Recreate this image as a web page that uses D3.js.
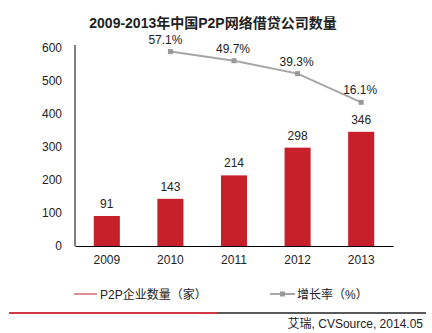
<!DOCTYPE html>
<html lang="zh">
<head>
<meta charset="UTF-8">
<title>P2P</title>
<script src="https://d3js.org/d3.v7.min.js"></script>
<style>
  body { margin: 0; background: #fff; }
  svg text { font-family: "Liberation Sans", Arial, "Noto Sans CJK SC", sans-serif; fill: #222; }
</style>
</head>
<body>
<svg id="chart" width="432" height="333"></svg>
<script>
const years = ["2009", "2010", "2011", "2012", "2013"];
const companies = [91, 143, 214, 298, 346];
const growthYears = ["2010", "2011", "2012", "2013"];
const growth = [57.1, 49.7, 39.3, 16.1];
const yTicks = [0, 100, 200, 300, 400, 500, 600];

const svg = d3.select("#chart");
const plotLeft = 75, plotRight = 393, plotTop = 48, plotBottom = 246;

const x = d3.scaleBand().domain(years).range([plotLeft, plotRight]).paddingInner(0.59).paddingOuter(0.295);
const y = d3.scaleLinear().domain([0, 600]).range([plotBottom, plotTop]);
const y2 = d3.scaleLinear().domain([-100, 60]).range([plotBottom, plotTop]);

// title
svg.append("text")
  .attr("x", 213).attr("y", 28)
  .attr("text-anchor", "middle")
  .attr("font-size", 14).attr("font-weight", "bold")
  .style("font-family", "'Liberation Sans', 'Noto Sans CJK SC', sans-serif")
  .text("2009-2013年中国P2P网络借贷公司数量");

// y axis
const yAxis = svg.append("g")
  .attr("transform", `translate(${plotLeft},0)`)
  .call(d3.axisLeft(y).tickValues(yTicks).tickSize(0).tickPadding(13));
yAxis.select(".domain").attr("stroke", "#000").attr("d", `M0,${plotTop - 3}V${plotBottom}`);
yAxis.selectAll("text").attr("font-size", 12).style("fill", "#222");

// x axis
const xAxis = svg.append("g")
  .attr("transform", `translate(0,${plotBottom})`)
  .call(d3.axisBottom(x).tickSize(0).tickPadding(9));
xAxis.select(".domain").attr("stroke", "#000");
xAxis.selectAll("text").attr("font-size", 12).style("fill", "#222");

// bars
svg.selectAll("rect.bar")
  .data(companies)
  .enter().append("rect")
  .attr("class", "bar")
  .attr("x", (d, i) => x(years[i]))
  .attr("y", d => y(d))
  .attr("width", x.bandwidth())
  .attr("height", d => plotBottom - y(d))
  .attr("fill", "#c8202a");

svg.selectAll("text.val")
  .data(companies)
  .enter().append("text")
  .attr("class", "val")
  .attr("x", (d, i) => x(years[i]) + x.bandwidth() / 2)
  .attr("y", d => y(d) - 8)
  .attr("text-anchor", "middle")
  .attr("font-size", 12)
  .text(d => d);

// growth line
const cx = (i) => x(growthYears[i]) + x.bandwidth() / 2;
const line = d3.line()
  .x((d, i) => cx(i))
  .y(d => y2(d));

svg.append("path")
  .datum(growth)
  .attr("d", line)
  .attr("fill", "none")
  .attr("stroke", "#a6a6a6")
  .attr("stroke-width", 2);

svg.selectAll("rect.mk")
  .data(growth)
  .enter().append("rect")
  .attr("class", "mk")
  .attr("x", (d, i) => cx(i) - 2.5)
  .attr("y", d => y2(d) - 2.5)
  .attr("width", 5).attr("height", 5)
  .attr("fill", "#999");

svg.selectAll("text.pct")
  .data(growth)
  .enter().append("text")
  .attr("class", "pct")
  .attr("x", (d, i) => cx(i) - (i === 0 ? 5 : 1))
  .attr("y", d => y2(d) - 8)
  .attr("text-anchor", "middle")
  .attr("font-size", 12)
  .text(d => d.toFixed(1) + "%");

// legend
const lg = svg.append("g").attr("font-size", 12);
lg.append("line").attr("x1", 74).attr("x2", 97).attr("y1", 294).attr("y2", 294)
  .attr("stroke", "#b8202a").attr("stroke-width", 1);
lg.append("text").attr("x", 100).attr("y", 298.5).text("P2P企业数量（家）");
lg.append("line").attr("x1", 270).attr("x2", 295).attr("y1", 294).attr("y2", 294)
  .attr("stroke", "#a6a6a6").attr("stroke-width", 2);
lg.append("rect").attr("x", 280).attr("y", 291.5).attr("width", 5).attr("height", 5).attr("fill", "#999");
lg.append("text").attr("x", 297).attr("y", 298.5).text("增长率（%）");

// footer rule
svg.append("line").attr("x1", 9).attr("x2", 217).attr("y1", 313).attr("y2", 313)
  .attr("stroke", "#d0393f").attr("stroke-width", 2);
svg.append("line").attr("x1", 217).attr("x2", 426).attr("y1", 313).attr("y2", 313)
  .attr("stroke", "#222").attr("stroke-width", 1.5);
svg.append("text").attr("x", 423).attr("y", 327.5)
  .attr("text-anchor", "end").attr("font-size", 12)
  .text("艾瑞, CVSource, 2014.05");
</script>
</body>
</html>
